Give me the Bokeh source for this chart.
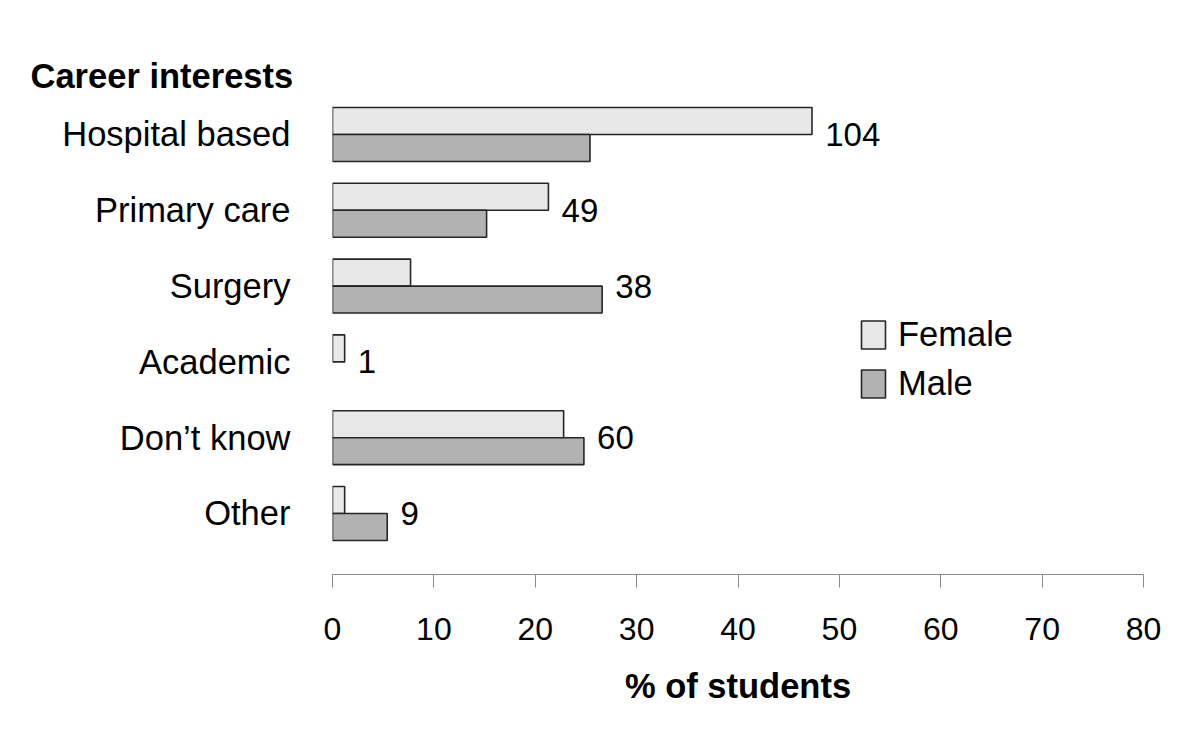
import math
from bokeh.plotting import figure
from bokeh.models import Range1d, FixedTicker, Legend, LegendItem, ColumnDataSource, Title
from bokeh.core.properties import value
from bokeh.embed import file_html
from bokeh.resources import INLINE

categories = ["Hospital based", "Primary care", "Surgery", "Academic", "Don\u2019t know", "Other"]
female = [47.3, 21.3, 7.7, 1.2, 22.8, 1.2]
male = [25.4, 15.2, 26.6, float("nan"), 24.8, 5.4]
counts = ["104", "49", "38", "1", "60", "9"]
x_ticks = [0, 10, 20, 30, 40, 50, 60, 70, 80]

FONT = "Liberation Sans"
FS_BIG = "34.5px"
FS_TICK = "32px"
FS_VAL = "33px"
BAR_H = 0.356


def longest(f, m):
    vals = [v for v in (f, m) if not math.isnan(v)]
    return max(vals)


idx = list(range(len(categories)))
src = ColumnDataSource(dict(
    yf=[i - BAR_H / 2 for i in idx],
    ym=[i + BAR_H / 2 for i in idx],
    female=female,
    male=male,
    lx=[longest(f, m) + 1.3 for f, m in zip(female, male)],
    ly=idx,
    counts=counts,
))

p = figure(width=1184, height=734, output_backend="svg", toolbar_location=None,
           x_range=Range1d(0, 80), y_range=Range1d(5.805, -0.501),
           min_border_left=332, min_border_right=41, min_border_top=96, min_border_bottom=160)
p.outline_line_color = None
p.grid.visible = False
p.background_fill_color = "white"

title = Title(text="Career interests", align="left", offset=-302, standoff=3,
              text_font=FONT, text_font_size=FS_BIG, text_font_style="bold",
              text_color="black")
p.add_layout(title, "above")

rf = p.hbar(y="yf", right="female", left=0, height=BAR_H, source=src,
            fill_color="#e8e8e8", line_color="#262626", line_width=1.6)
rm = p.hbar(y="ym", right="male", left=0, height=BAR_H, source=src,
            fill_color="#b2b2b2", line_color="#262626", line_width=1.6)

p.text(x="lx", y="ly", text="counts", source=src, text_font=value(FONT),
       text_font_size=FS_VAL, text_baseline="middle", text_align="left", text_color="black")

# x axis
xa = p.xaxis[0]
xa.ticker = FixedTicker(ticks=x_ticks)
xa.axis_line_color = "#8c8c8c"
xa.major_tick_line_color = "#8c8c8c"
xa.major_tick_in = 0
xa.major_tick_out = 13
xa.minor_tick_line_color = None
xa.major_label_standoff = 30
xa.major_label_text_font = FONT
xa.major_label_text_font_size = FS_TICK
xa.major_label_text_color = "black"
xa.axis_label = "% of students"
xa.axis_label_text_font = FONT
xa.axis_label_text_font_size = FS_BIG
xa.axis_label_text_font_style = "bold"
xa.axis_label_text_color = "black"
xa.axis_label_standoff = 24

# y axis
ya = p.yaxis[0]
ya.ticker = FixedTicker(ticks=idx)
ya.major_label_overrides = {i: c for i, c in zip(idx, categories)}
ya.axis_line_color = None
ya.major_tick_line_color = None
ya.minor_tick_line_color = None
ya.major_label_standoff = 36
ya.major_label_text_font = FONT
ya.major_label_text_font_size = FS_BIG
ya.major_label_text_color = "black"

legend = Legend(items=[LegendItem(label="Female", renderers=[rf]),
                       LegendItem(label="Male", renderers=[rm])],
                location=(526, 171), padding=0, margin=0, spacing=10,
                glyph_width=30, glyph_height=35, label_height=35,
                label_standoff=10, label_text_font=FONT, label_text_font_size=FS_BIG,
                label_text_color="black",
                border_line_color=None, background_fill_alpha=0)
p.add_layout(legend, "center")

open("out.html", "w").write(file_html(p, INLINE))
